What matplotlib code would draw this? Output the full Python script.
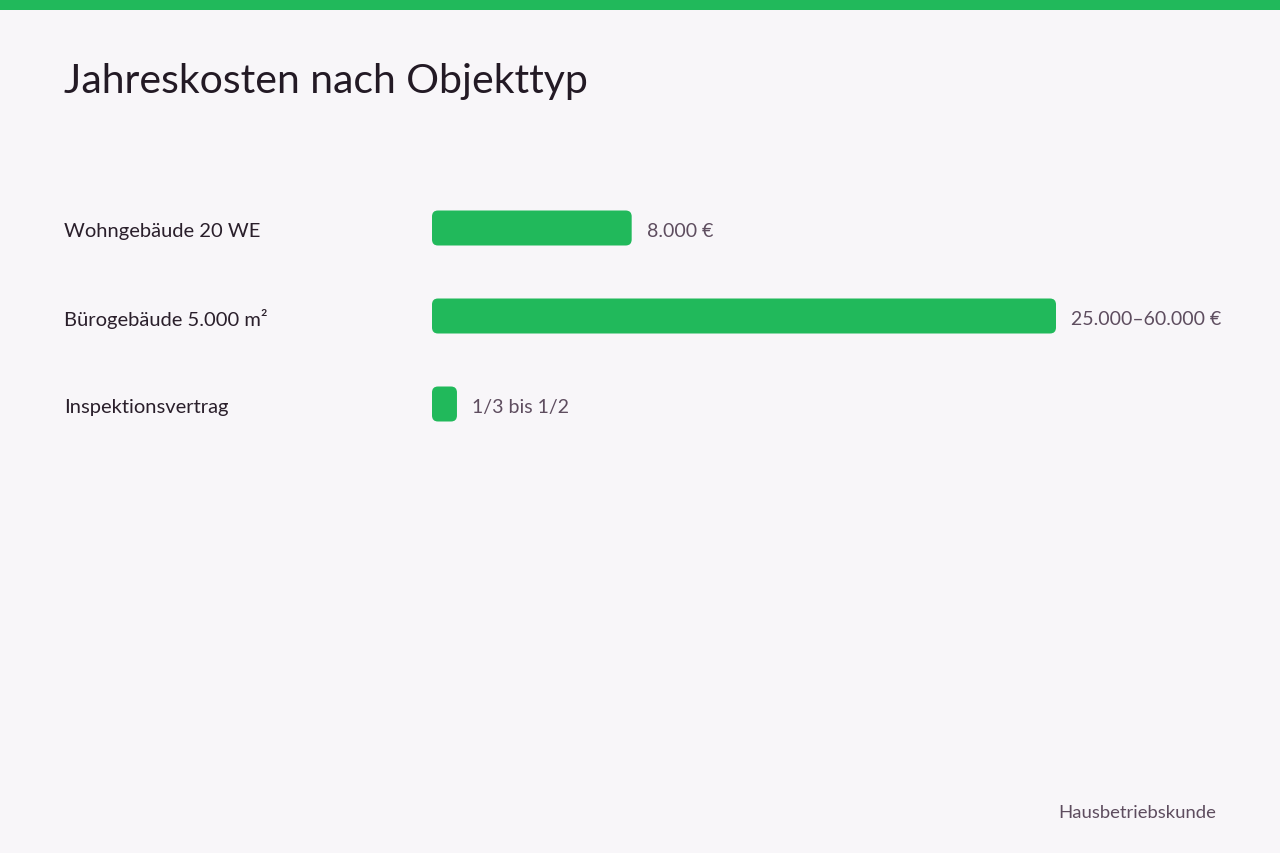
import matplotlib
matplotlib.use("Agg")
import matplotlib.pyplot as plt
from matplotlib.patches import FancyBboxPatch, Rectangle

categories = ["Wohngebäude 20 WE", "Bürogebäude 5.000 m²", "Inspektionsvertrag"]
values = [8000, 25000, 1000]
value_labels = ["8.000 €", "25.000–60.000 €", "1/3 bis 1/2"]
title = "Jahreskosten nach Objekttyp"
footer = "Hausbetriebskunde"

W, H = 1280, 854
BG = "#f8f6f9"
GREEN = "#21b95b"
plt.rcParams['font.family'] = ['Lato', 'DejaVu Sans']

fig = plt.figure(figsize=(W/100, H/100), dpi=100, facecolor=BG)

# top accent bar
fig.patches.append(Rectangle((0, 1 - 11/H), 1, 11/H, transform=fig.transFigure,
                             facecolor=GREEN, edgecolor='none'))

fig.text(64/W, 1 - 81/H, title, fontsize=29.5, color="#231a25", va='center', ha='left')

x0, x1 = 432, 1056
top_px, bot_px = 185, 449
ax = fig.add_axes([x0/W, 1 - bot_px/H, (x1 - x0)/W, (bot_px - top_px)/H])
ax.set_facecolor('none')
vmax = max(values)
ax.set_xlim(0, vmax)
ax.set_ylim(len(categories) - 0.5, -0.5)
ax.axis('off')

xu_per_px = vmax / (x1 - x0)
yu_per_px = 1 / 88
bar_h = 35 * yu_per_px
r_px = 6
for i, (cat, v, lab) in enumerate(zip(categories, values, value_labels)):
    p = FancyBboxPatch((0, i - bar_h/2), v, bar_h,
                       boxstyle=f"round,pad=0,rounding_size={r_px*xu_per_px}",
                       mutation_aspect=yu_per_px/xu_per_px,
                       facecolor=GREEN, edgecolor='none')
    ax.add_patch(p)
    ax.annotate(lab, (v, i), xytext=(15*0.72, -1.5), textcoords='offset points',
                va='center', ha='left', fontsize=14, color="#5e4d5f")
    ax.annotate(cat, (0, i), xytext=(-(x0 - 64)*0.72, -1.5), textcoords='offset points',
                va='center', ha='left', fontsize=14.5, color="#2a1f2b",
                annotation_clip=False)

fig.text(1216/W, 1 - 813/H, footer, fontsize=13.3, color="#5e4d5f", va='center', ha='right')

fig.savefig("out.png", dpi=100, facecolor=BG)
